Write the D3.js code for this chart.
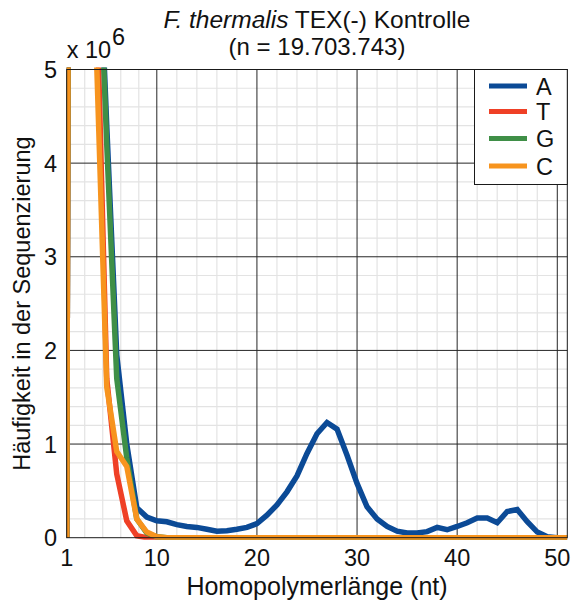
<!DOCTYPE html>
<html>
<head>
<meta charset="utf-8">
<script src="https://cdn.jsdelivr.net/npm/d3@7/dist/d3.min.js"></script>
<style>
  html, body { margin: 0; padding: 0; background: #fff; }
  svg { display: block; font-family: "Liberation Sans", Arial, Helvetica, sans-serif; }
</style>
</head>
<body>
<svg id="chart" width="573" height="608"></svg>
<script>
// Homopolymer length (nt)
const lengths = [1,2,3,4,5,6,7,8,9,10,11,12,13,14,15,16,17,18,19,20,21,22,23,24,25,26,27,28,29,30,
                 31,32,33,34,35,36,37,38,39,40,41,42,43,44,45,46,47,48,49,50,51];

// Read counts per homopolymer length, in millions (x 10^6)
const countsA = [0,40,15,7.0,4.4,1.95,1.0,0.32,0.22,0.18,0.17,0.14,0.12,0.11,0.09,0.07,0.075,0.09,0.11,0.15,
                 0.24,0.35,0.49,0.66,0.9,1.11,1.23,1.16,0.88,0.58,0.33,0.2,0.12,0.07,0.05,0.05,0.065,0.11,0.085,0.12,
                 0.16,0.21,0.21,0.16,0.28,0.3,0.17,0.06,0.01,0,0];
const countsT = [0,40,15,5.8,1.7,0.68,0.18,0.02,0,0,0,0,0,0,0,0,0,0,0,0,
                 0,0,0,0,0,0,0,0,0,0,0,0,0,0,0,0,0,0,0,0,
                 0,0,0,0,0,0,0,0,0,0,0];
const countsG = [0,40,15,7.0,4.2,1.7,0.85,0.2,0.05,0.01,0,0,0,0,0,0,0,0,0,0,
                 0,0,0,0,0,0,0,0,0,0,0,0,0,0,0,0,0,0,0,0,
                 0,0,0,0,0,0,0,0,0,0,0];
const countsC = [0,40,15,5.05,1.61,0.92,0.76,0.2,0.06,0.01,0,0,0,0,0,0,0,0,0,0,
                 0,0,0,0,0,0,0,0,0,0,0,0,0,0,0,0,0,0,0,0,
                 0,0,0,0,0,0,0,0,0,0,0];

const seriesNames = ["A", "T", "G", "C"];
const seriesColors = ["#0b4a96", "#ef4026", "#3f8f47", "#f7941e"];
const xTicks = [1, 10, 20, 30, 40, 50];
const yTicks = [0, 1, 2, 3, 4, 5];

const svg = d3.select("#chart");
const W = 573, H = 608;
const plot = { left: 66.7, right: 567.3, top: 69.5, bottom: 537.7 };

const x = d3.scaleLinear().domain([1, 51]).range([plot.left, plot.right]);
const y = d3.scaleLinear().domain([0, 5]).range([plot.bottom, plot.top]);

svg.append("rect").attr("width", W).attr("height", H).attr("fill", "#fff");

// minor grid: five subdivisions between neighbouring major ticks
const xMinor = [];
for (let i = 0; i < xTicks.length - 1; i++) {
  const a = xTicks[i], b = xTicks[i + 1];
  for (let k = 1; k < 5; k++) xMinor.push(a + (b - a) * k / 5);
}
const yMinor = [];
for (let i = 0; i < yTicks.length - 1; i++) for (let k = 1; k < 5; k++) yMinor.push(yTicks[i] + k / 5);

const grid = svg.append("g");
grid.selectAll("line.xm").data(xMinor).join("line")
  .attr("x1", d => x(d)).attr("x2", d => x(d))
  .attr("y1", plot.top).attr("y2", plot.bottom)
  .attr("stroke", "#e3e3e3").attr("stroke-width", 1.2);
grid.selectAll("line.ym").data(yMinor).join("line")
  .attr("y1", d => y(d)).attr("y2", d => y(d))
  .attr("x1", plot.left).attr("x2", plot.right)
  .attr("stroke", "#e3e3e3").attr("stroke-width", 1.2);
grid.selectAll("line.xM").data(xTicks.slice(1)).join("line")
  .attr("x1", d => x(d)).attr("x2", d => x(d))
  .attr("y1", plot.top).attr("y2", plot.bottom)
  .attr("stroke", "#262626").attr("stroke-width", 1);
grid.selectAll("line.yM").data(yTicks.slice(1, 5)).join("line")
  .attr("y1", d => y(d)).attr("y2", d => y(d))
  .attr("x1", plot.left).attr("x2", plot.right)
  .attr("stroke", "#262626").attr("stroke-width", 1);

// series lines, clipped to the axes box
svg.append("clipPath").attr("id", "clip")
  .append("rect").attr("x", plot.left).attr("y", plot.top - 2)
  .attr("width", plot.right - plot.left).attr("height", plot.bottom - plot.top + 4);

const allCounts = [countsA, countsT, countsG, countsC];
const line = d3.line().x((d, i) => x(lengths[i])).y(d => y(d));
const lines = svg.append("g").attr("clip-path", "url(#clip)");
allCounts.forEach((vals, si) => {
  lines.append("path").datum(vals)
    .attr("d", line)
    .attr("fill", "none")
    .attr("stroke", seriesColors[si])
    .attr("stroke-width", 5.5)
    .attr("stroke-linejoin", "miter");
});

// axes box
svg.append("rect")
  .attr("x", plot.left).attr("y", plot.top)
  .attr("width", plot.right - plot.left).attr("height", plot.bottom - plot.top)
  .attr("fill", "none").attr("stroke", "#1a1a1a").attr("stroke-width", 1);

// tick labels
const fs = 23.5;
svg.append("g").selectAll("text").data(xTicks).join("text")
  .attr("x", d => x(d)).attr("y", 566)
  .attr("text-anchor", "middle").attr("font-size", fs).attr("fill", "#111")
  .text(d => d);
svg.append("g").selectAll("text").data(yTicks).join("text")
  .attr("x", 57).attr("y", d => y(d) + 8.5)
  .attr("text-anchor", "end").attr("font-size", fs).attr("fill", "#111")
  .text(d => d);

// exponent label
svg.append("text").attr("x", plot.left).attr("y", 58)
  .attr("font-size", fs).attr("fill", "#111").text("x 10");
svg.append("text").attr("x", 112).attr("y", 45)
  .attr("font-size", fs).attr("fill", "#111").text("6");

// axis titles
svg.append("text").attr("x", (plot.left + plot.right) / 2).attr("y", 595)
  .attr("text-anchor", "middle").attr("font-size", 25).attr("fill", "#111")
  .text("Homopolymerlänge (nt)");
svg.append("text")
  .attr("transform", `translate(30, ${(plot.top + plot.bottom) / 2}) rotate(-90)`)
  .attr("text-anchor", "middle").attr("font-size", fs).attr("fill", "#111")
  .text("Häufigkeit in der Sequenzierung");

// title
const title = svg.append("text").attr("x", (plot.left + plot.right) / 2).attr("y", 28)
  .attr("text-anchor", "middle").attr("font-size", 24.5).attr("fill", "#111");
title.append("tspan").attr("font-style", "italic").text("F. thermalis");
title.append("tspan").text(" TEX(-) Kontrolle");
svg.append("text").attr("x", (plot.left + plot.right) / 2).attr("y", 55)
  .attr("text-anchor", "middle").attr("font-size", 24).attr("fill", "#111")
  .text("(n = 19.703.743)");

// legend
const lg = { x0: 474.5, y0: 69.5, x1: 567.3, y1: 184.5 };
svg.append("rect").attr("x", lg.x0).attr("y", lg.y0)
  .attr("width", lg.x1 - lg.x0).attr("height", lg.y1 - lg.y0)
  .attr("fill", "#fff").attr("stroke", "#1a1a1a").attr("stroke-width", 1);
const legendY = [86, 111.5, 138.5, 166];
const leg = svg.append("g").selectAll("g").data(seriesNames).join("g");
leg.append("line")
  .attr("x1", 489).attr("x2", 527)
  .attr("y1", (d, i) => legendY[i]).attr("y2", (d, i) => legendY[i])
  .attr("stroke", (d, i) => seriesColors[i]).attr("stroke-width", 5);
leg.append("text")
  .attr("x", 536).attr("y", (d, i) => legendY[i] + 8.5)
  .attr("font-size", fs).attr("fill", "#111")
  .text(d => d);
</script>
</body>
</html>
